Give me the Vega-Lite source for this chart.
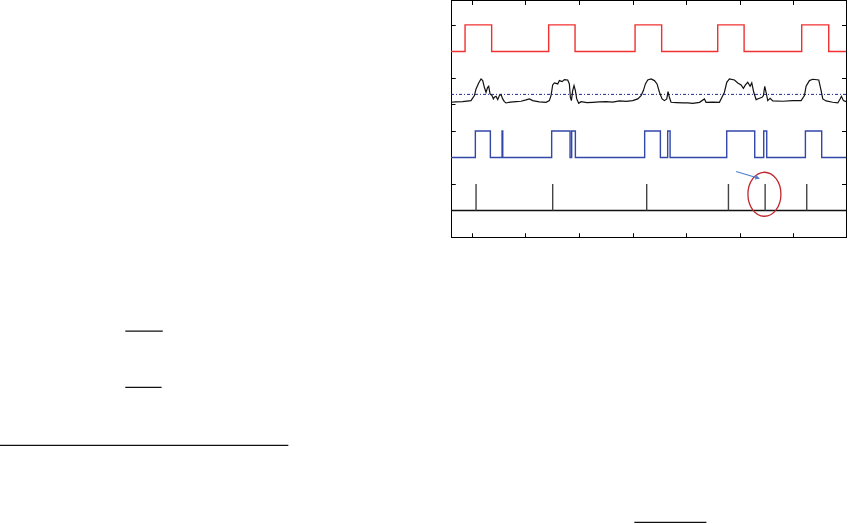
{
  "$schema": "https://vega.github.io/schema/vega-lite/v6.json",
  "autosize": "none",
  "width": 395,
  "height": 237,
  "padding": {"left": 451, "top": 0, "right": 3, "bottom": 287},
  "background": "white",
  "config": {
    "view": {"stroke": null},
    "axis": {"labels": false, "title": null, "grid": false, "domainColor": "black", "domainWidth": 1, "tickColor": "black", "tickSize": -4, "tickWidth": 1}
  },
  "datasets": {
    "red": [
      {"t": 0.615, "v": 3.5}, {"t": 0.877, "v": 4}, {"t": 1.373, "v": 3.5}, {"t": 2.436, "v": 4}, {"t": 2.928, "v": 3.5},
      {"t": 4.047, "v": 4}, {"t": 4.543, "v": 3.5}, {"t": 5.588, "v": 4}, {"t": 6.08, "v": 3.5}, {"t": 7.154, "v": 4},
      {"t": 7.658, "v": 3.5}, {"t": 7.98, "v": 3.5}
    ],
    "blue": [
      {"t": 0.615, "v": 1.5}, {"t": 1.069, "v": 2}, {"t": 1.349, "v": 1.5}, {"t": 1.567, "v": 2}, {"t": 1.58, "v": 1.5},
      {"t": 2.492, "v": 2}, {"t": 2.835, "v": 1.5}, {"t": 2.865, "v": 2}, {"t": 2.934, "v": 1.5}, {"t": 4.226, "v": 2},
      {"t": 4.519, "v": 1.5}, {"t": 4.655, "v": 2}, {"t": 4.7, "v": 1.5}, {"t": 5.756, "v": 2}, {"t": 6.278, "v": 1.5},
      {"t": 6.446, "v": 2}, {"t": 6.502, "v": 1.5}, {"t": 7.223, "v": 2}, {"t": 7.527, "v": 1.5}, {"t": 7.98, "v": 1.5}
    ],
    "signal": [
      {"t": 0.615, "v": 2.541}, {"t": 0.7, "v": 2.548}, {"t": 0.833, "v": 2.553}, {"t": 0.988, "v": 2.572}, {"t": 1.051, "v": 2.667},
      {"t": 1.082, "v": 2.792}, {"t": 1.131, "v": 2.906}, {"t": 1.175, "v": 2.981}, {"t": 1.206, "v": 2.95}, {"t": 1.237, "v": 2.824},
      {"t": 1.268, "v": 2.73}, {"t": 1.299, "v": 2.824}, {"t": 1.318, "v": 2.843}, {"t": 1.343, "v": 2.698}, {"t": 1.38, "v": 2.667},
      {"t": 1.405, "v": 2.604}, {"t": 1.424, "v": 2.635}, {"t": 1.455, "v": 2.654}, {"t": 1.486, "v": 2.591}, {"t": 1.517, "v": 2.667},
      {"t": 1.548, "v": 2.686}, {"t": 1.579, "v": 2.604}, {"t": 1.61, "v": 2.553}, {"t": 1.641, "v": 2.528}, {"t": 1.72, "v": 2.545},
      {"t": 1.828, "v": 2.553}, {"t": 1.92, "v": 2.56}, {"t": 2.014, "v": 2.585}, {"t": 2.076, "v": 2.604}, {"t": 2.139, "v": 2.572},
      {"t": 2.26, "v": 2.55}, {"t": 2.387, "v": 2.541}, {"t": 2.449, "v": 2.572}, {"t": 2.48, "v": 2.667}, {"t": 2.511, "v": 2.868},
      {"t": 2.543, "v": 2.906}, {"t": 2.605, "v": 2.887}, {"t": 2.636, "v": 2.95}, {"t": 2.686, "v": 2.931}, {"t": 2.729, "v": 2.969},
      {"t": 2.791, "v": 2.962}, {"t": 2.822, "v": 2.887}, {"t": 2.841, "v": 2.635}, {"t": 2.86, "v": 2.572}, {"t": 2.884, "v": 2.761},
      {"t": 2.909, "v": 2.855}, {"t": 2.934, "v": 2.761}, {"t": 2.959, "v": 2.604}, {"t": 2.996, "v": 2.522}, {"t": 3.04, "v": 2.553},
      {"t": 3.15, "v": 2.535}, {"t": 3.257, "v": 2.541}, {"t": 3.38, "v": 2.55}, {"t": 3.506, "v": 2.553}, {"t": 3.63, "v": 2.545},
      {"t": 3.755, "v": 2.566}, {"t": 3.88, "v": 2.558}, {"t": 4.003, "v": 2.572}, {"t": 4.097, "v": 2.604}, {"t": 4.159, "v": 2.667},
      {"t": 4.202, "v": 2.761}, {"t": 4.24, "v": 2.887}, {"t": 4.283, "v": 2.962}, {"t": 4.345, "v": 2.981}, {"t": 4.408, "v": 2.95},
      {"t": 4.457, "v": 2.887}, {"t": 4.501, "v": 2.73}, {"t": 4.551, "v": 2.604}, {"t": 4.594, "v": 2.572}, {"t": 4.638, "v": 2.604},
      {"t": 4.662, "v": 2.742}, {"t": 4.687, "v": 2.635}, {"t": 4.718, "v": 2.541}, {"t": 4.82, "v": 2.535}, {"t": 4.936, "v": 2.528},
      {"t": 5.03, "v": 2.53}, {"t": 5.122, "v": 2.522}, {"t": 5.25, "v": 2.54}, {"t": 5.34, "v": 2.604}, {"t": 5.371, "v": 2.541},
      {"t": 5.5, "v": 2.545}, {"t": 5.62, "v": 2.541}, {"t": 5.651, "v": 2.604}, {"t": 5.713, "v": 2.73}, {"t": 5.757, "v": 2.918},
      {"t": 5.806, "v": 2.981}, {"t": 5.9, "v": 2.962}, {"t": 5.962, "v": 2.906}, {"t": 6.024, "v": 2.868}, {"t": 6.067, "v": 2.805},
      {"t": 6.105, "v": 2.868}, {"t": 6.148, "v": 2.918}, {"t": 6.192, "v": 2.843}, {"t": 6.223, "v": 2.906}, {"t": 6.26, "v": 2.73},
      {"t": 6.304, "v": 2.591}, {"t": 6.366, "v": 2.616}, {"t": 6.415, "v": 2.635}, {"t": 6.44, "v": 2.667}, {"t": 6.465, "v": 2.843},
      {"t": 6.49, "v": 2.73}, {"t": 6.521, "v": 2.572}, {"t": 6.565, "v": 2.616}, {"t": 6.614, "v": 2.566}, {"t": 6.8, "v": 2.56},
      {"t": 6.987, "v": 2.572}, {"t": 7.143, "v": 2.572}, {"t": 7.205, "v": 2.667}, {"t": 7.236, "v": 2.843}, {"t": 7.298, "v": 2.95},
      {"t": 7.36, "v": 2.975}, {"t": 7.472, "v": 2.962}, {"t": 7.516, "v": 2.761}, {"t": 7.547, "v": 2.604}, {"t": 7.609, "v": 2.566},
      {"t": 7.733, "v": 2.541}, {"t": 7.827, "v": 2.528}, {"t": 7.87, "v": 2.604}, {"t": 7.895, "v": 2.654}, {"t": 7.932, "v": 2.572},
      {"t": 7.98, "v": 2.553}
    ],
    "spikes": [
      {"t": 1.082}, {"t": 2.511}, {"t": 4.264}, {"t": 5.788}, {"t": 6.472}, {"t": 7.248}
    ],
    "strays": [
      {"t": -5.458, "t2": -4.759, "v": -1.774},
      {"t": -5.458, "t2": -4.781, "v": -2.836},
      {"t": -7.82, "t2": -2.418, "v": -3.93},
      {"t": 4.034, "t2": 5.377, "v": -5.383}
    ]
  },
  "layer": [
    {
      "data": {"name": "red"},
      "mark": {"type": "line", "interpolate": "step-after", "color": "#f23030", "strokeWidth": 1.4},
      "encoding": {
        "x": {"field": "t", "type": "quantitative", "scale": {"domain": [0.615, 7.98], "nice": false, "zero": false},
              "axis": {"orient": "bottom", "values": [1, 2, 3, 4, 5, 6, 7]}},
        "y": {"field": "v", "type": "quantitative", "scale": {"domain": [0, 4.47], "nice": false, "zero": false},
              "axis": {"orient": "left", "values": [1, 2, 2.5, 3, 4]}}
      }
    },
    {
      "data": {"name": "blue"},
      "mark": {"type": "line", "interpolate": "step-after", "color": "#3347a8", "strokeWidth": 1.4},
      "encoding": {
        "x": {"field": "t", "type": "quantitative", "axis": {"orient": "top", "values": [1, 2, 3, 4, 5, 6, 7]}},
        "y": {"field": "v", "type": "quantitative", "axis": {"orient": "right", "values": [1, 2, 3, 4]}}
      }
    },
    {
      "data": {"values": [{"v": 2.69}]},
      "mark": {"type": "rule", "color": "#1f2d85", "strokeWidth": 1, "strokeDash": [3, 2, 1, 2]},
      "encoding": {"y": {"field": "v", "type": "quantitative"}}
    },
    {
      "data": {"name": "signal"},
      "mark": {"type": "line", "color": "#111111", "strokeWidth": 1.2},
      "encoding": {
        "x": {"field": "t", "type": "quantitative"},
        "y": {"field": "v", "type": "quantitative"}
      }
    },
    {
      "data": {"values": [{"v": 0.5}]},
      "mark": {"type": "rule", "color": "#111111", "strokeWidth": 1.4},
      "encoding": {"y": {"field": "v", "type": "quantitative"}}
    },
    {
      "data": {"name": "spikes"},
      "mark": {"type": "rule", "color": "#444444", "strokeWidth": 1.4},
      "encoding": {
        "x": {"field": "t", "type": "quantitative"},
        "y": {"datum": 0.5, "type": "quantitative"},
        "y2": {"datum": 1.0}
      }
    },
    {
      "data": {"values": [{"t": 6.459, "v": 0.806}]},
      "mark": {"type": "point", "shape": "M0,-1.333A1,1.333 0 1,1 0,1.333A1,1.333 0 1,1 0,-1.333Z", "size": 1089, "filled": false, "stroke": "#c0282e", "strokeWidth": 1.3, "opacity": 1},
      "encoding": {
        "x": {"field": "t", "type": "quantitative"},
        "y": {"field": "v", "type": "quantitative"}
      }
    },
    {
      "data": {"values": [{"t": 5.931, "v": 1.236, "t2": 6.366, "v2": 1.104}]},
      "mark": {"type": "rule", "color": "#4a7fd0", "strokeWidth": 1.2},
      "encoding": {
        "x": {"field": "t", "type": "quantitative"},
        "x2": {"field": "t2"},
        "y": {"field": "v", "type": "quantitative"},
        "y2": {"field": "v2"}
      }
    },
    {
      "data": {"values": [{"t": 6.33, "v": 1.115}]},
      "mark": {"type": "point", "shape": "triangle-right", "size": 22, "filled": true, "color": "#4a7fd0", "angle": 17, "opacity": 1},
      "encoding": {
        "x": {"field": "t", "type": "quantitative"},
        "y": {"field": "v", "type": "quantitative"}
      }
    },
    {
      "data": {"name": "strays"},
      "mark": {"type": "rule", "color": "#111111", "strokeWidth": 1.3},
      "encoding": {
        "x": {"field": "t", "type": "quantitative"},
        "x2": {"field": "t2"},
        "y": {"field": "v", "type": "quantitative"}
      }
    }
  ]
}
